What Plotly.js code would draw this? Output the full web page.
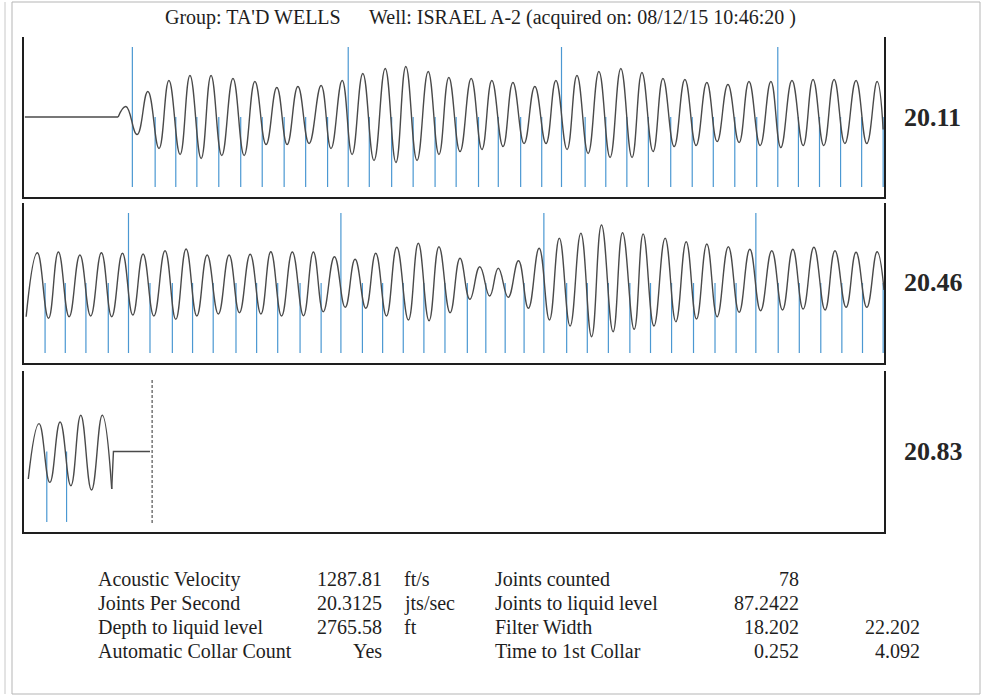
<!DOCTYPE html>
<html>
<head>
<meta charset="utf-8">
<script src="https://cdn.plot.ly/plotly-3.0.1.min.js"></script>
<style>html,body{margin:0;padding:0;background:#fff;}#chart{width:982px;height:696px;}</style>
</head>
<body>
<div id="chart"></div>
<script>
// ---------------- DATA ----------------
const titleGroup = "Group: TA'D WELLS";
const titleWell = "Well: ISRAEL A-2 (acquired on: 08/12/15 10:46:20 )";

// Panel ranges in seconds
const panelRanges = [[0, 2], [2, 4], [4, 6]];
const panelJps = ["20.11", "20.46", "20.83"];

// Panel 1: flat lead-in then acoustic trace extremes (time s, amplitude)
const p1FlatT = [0.002, 0.219];
const p1FlatA = [0, 0];
const p1WaveT = [0.219,0.237,0.263,0.288,0.314,0.337,0.363,0.386,0.412,0.435,0.460,0.486,0.512,0.537,0.563,0.588,0.612,0.637,0.663,0.691,0.714,0.740,0.763,0.788,0.814,0.840,0.865,0.888,0.914,0.940,0.965,0.988,1.014,1.040,1.065,1.088,1.114,1.137,1.163,1.188,1.214,1.237,1.263,1.286,1.312,1.337,1.363,1.388,1.414,1.437,1.463,1.486,1.512,1.537,1.563,1.588,1.612,1.637,1.663,1.686,1.712,1.737,1.760,1.786,1.812,1.835,1.860,1.884,1.909,1.935,1.960,1.984,1.998];
const p1WaveA = [0,10.5,-17.5,25.5,-31.5,36.5,-37.5,41.5,-41.5,41.5,-38.5,38.5,-38.5,35.5,-27.5,29.5,-27.5,30.5,-26.5,31.5,-31.5,36.5,-37.5,43.5,-43.5,48.5,-45.5,50.5,-43.5,45.5,-37.5,39.5,-34.5,38.5,-32.5,36.5,-29.5,34.5,-26.5,30.5,-26.5,36.5,-32.5,41.5,-36.5,45.5,-40.5,48.5,-40.5,44.5,-34.5,38.5,-29.5,37.5,-28.5,34.5,-24.5,32.5,-25.5,35.5,-28.5,35.5,-30.5,36.5,-28.5,37.5,-28.5,37.5,-26.5,36.5,-26.5,35.5,-12.5];

// Panel 2
const p2WaveT = [2.005,2.031,2.057,2.080,2.105,2.130,2.155,2.180,2.204,2.229,2.253,2.277,2.302,2.328,2.353,2.377,2.402,2.426,2.452,2.477,2.501,2.526,2.551,2.574,2.599,2.624,2.650,2.673,2.696,2.722,2.747,2.770,2.795,2.818,2.843,2.867,2.894,2.917,2.942,2.965,2.991,3.014,3.037,3.060,3.083,3.103,3.126,3.150,3.173,3.198,3.222,3.245,3.270,3.295,3.320,3.343,3.370,3.392,3.419,3.440,3.465,3.491,3.516,3.540,3.564,3.588,3.612,3.638,3.663,3.688,3.713,3.739,3.764,3.788,3.812,3.837,3.863,3.886,3.912,3.935,3.960,3.984,4.000];
const p2WaveA = [-33.7,30.3,-35.3,31,-33.7,28,-33,30.3,-33.7,29.7,-32,29,-33,32.3,-36.3,34,-33,28,-31,28,-29.7,28.7,-31,31.3,-33,31,-32.7,31,-28.7,26.3,-24.3,23.7,-25.3,29.7,-33,35.7,-37,39.7,-37.7,36.3,-29.7,24.7,-16.3,16.3,-13,14.7,-14.3,22.3,-25.3,34.7,-37,44.7,-43,49.7,-53.7,58,-48.7,50.3,-46.3,49,-43,44.7,-38.7,41.3,-36,39,-33.7,36.3,-29.3,33.7,-27.7,32.3,-27,33.7,-26,35.7,-27,32.3,-24.3,30.7,-24.3,31.3,-7];

// Panel 3: trace then cut-off tail to the liquid level
const p3WaveT = [4.010,4.035,4.060,4.084,4.109,4.132,4.157,4.182,4.204];
const p3WaveA = [-27.3,27.7,-30.7,29.3,-34,36,-38.3,36,-37.3];
const p3TailT = [4.204, 4.208, 4.293];
const p3TailA = [-37.3, 0, 0];
const liquidLevelT = 4.298;

// Collar (joint) detections, seconds
const collarsP1 = [0.252,0.305,0.353,0.402,0.453,0.504,0.554,0.605,0.655,0.706,0.754,0.803,0.855,0.905,0.956,1.005,1.057,1.103,1.155,1.204,1.250,1.305,1.353,1.402,1.452,1.504,1.554,1.603,1.653,1.704,1.753,1.801,1.850,1.899,1.948,1.998];
const collarsP2 = [2.049,2.096,2.144,2.196,2.243,2.293,2.345,2.392,2.440,2.493,2.541,2.590,2.642,2.691,2.737,2.787,2.834,2.882,2.930,2.979,3.031,3.074,3.119,3.163,3.209,3.262,3.310,3.359,3.409,3.457,3.506,3.557,3.607,3.656,3.702,3.754,3.803,3.853,3.902,3.950,3.998];
const collarsP3 = [4.053, 4.099];
const majorCollarNumbers = [0, 10, 20, 30, 40, 50, 60, 70];

// Summary table
const leftLabels = ["Acoustic Velocity", "Joints Per Second", "Depth to liquid level", "Automatic Collar Count"];
const leftValues = ["1287.81", "20.3125", "2765.58", "Yes"];
const leftUnits = ["ft/s", "jts/sec", "ft", ""];
const rightLabels = ["Joints counted", "Joints to liquid level", "Filter Width", "Time to 1st Collar"];
const rightValues1 = ["78", "87.2422", "18.202", "0.252"];
const rightValues2 = ["", "", "22.202", "4.092"];

// ---------------- BUILD ----------------
const W = 982, H = 696;
const px = v => v / W;
const py = v => 1 - v / H;
const WAVE = '#4a4a4a', BLUE = '#4b98d2', INK = '#1e1e1e';
const FONT = 'Liberation Serif, Times New Roman, serif';

const axisIds = ['', '2', '3'];
const traces = [];

function collarTrace(list, offset, ax) {
  const x = [], y = [];
  list.forEach((t, i) => {
    const n = i + offset;
    const top = majorCollarNumbers.includes(n) ? 70 : 0;
    x.push(t, t, null); y.push(top, -70, null);
  });
  return {x, y, xaxis: 'x' + ax, yaxis: 'y' + ax, mode: 'lines', type: 'scatter',
          line: {color: BLUE, width: 1.2}, hoverinfo: 'skip', showlegend: false};
}
traces.push(collarTrace(collarsP1, 0, ''));
traces.push(collarTrace(collarsP2, collarsP1.length, '2'));
traces.push(collarTrace(collarsP3, collarsP1.length + collarsP2.length, '3'));

function waveTrace(x, y, ax, shape) {
  return {x, y, xaxis: 'x' + ax, yaxis: 'y' + ax, mode: 'lines', type: 'scatter',
          line: {color: WAVE, width: 1.4, shape: shape, smoothing: 1.3}, hoverinfo: 'skip', showlegend: false};
}
traces.push(waveTrace(p1FlatT, p1FlatA, '', 'linear'));
traces.push(waveTrace(p1WaveT, p1WaveA, '', 'spline'));
traces.push(waveTrace(p2WaveT, p2WaveA, '2', 'spline'));
traces.push(waveTrace(p3WaveT, p3WaveA, '3', 'spline'));
traces.push(waveTrace(p3TailT, p3TailA, '3', 'linear'));
traces.push({x: [liquidLevelT, liquidLevelT], y: [71, -71], xaxis: 'x3', yaxis: 'y3', mode: 'lines',
             type: 'scatter', line: {color: '#6a6a6a', width: 1.4, dash: '3px,2px'}, hoverinfo: 'skip', showlegend: false});

const panelsPx = [[37, 197], [203, 363], [371, 532]];
const layout = {
  width: W, height: H, margin: {l: 0, r: 0, t: 0, b: 0},
  paper_bgcolor: '#fff', plot_bgcolor: 'rgba(0,0,0,0)', showlegend: false,
  font: {family: FONT, color: INK},
  annotations: [], shapes: []
};
panelsPx.forEach((p, i) => {
  const id = axisIds[i];
  layout['xaxis' + id] = {domain: [px(24), px(884)], range: panelRanges[i], anchor: 'y' + id,
    showline: true, linecolor: INK, linewidth: 2.2, showgrid: false, zeroline: false,
    showticklabels: false, ticks: '', fixedrange: true};
  layout['yaxis' + id] = {domain: [py(p[1]), py(p[0])], range: [-80, 80], anchor: 'x' + id,
    showline: true, mirror: true, linecolor: INK, linewidth: 2.2, showgrid: false, zeroline: false,
    showticklabels: false, ticks: '', fixedrange: true};
  layout.annotations.push({text: '<b>' + panelJps[i] + '</b>', xref: 'paper', yref: 'paper',
    x: px(902), y: py((p[0] + p[1]) / 2), xanchor: 'left', yanchor: 'middle', showarrow: false,
    font: {family: FONT, size: 26, color: '#262626'}});
});

layout.annotations.push({text: titleGroup, xref: 'paper', yref: 'paper', x: px(163), y: py(18),
  xanchor: 'left', yanchor: 'middle', showarrow: false, font: {family: FONT, size: 20, color: INK}});
layout.annotations.push({text: titleWell, xref: 'paper', yref: 'paper', x: px(367), y: py(18),
  xanchor: 'left', yanchor: 'middle', showarrow: false, font: {family: FONT, size: 20, color: INK}});

const rowY = [579, 603, 627, 651];
const tf = {family: FONT, size: 20, color: INK};
function addText(text, x, y, anchor) {
  if (!text) return;
  layout.annotations.push({text, xref: 'paper', yref: 'paper', x: px(x), y: py(y),
    xanchor: anchor, yanchor: 'middle', showarrow: false, font: tf});
}
rowY.forEach((y, i) => {
  addText(leftLabels[i], 96, y, 'left');
  addText(leftValues[i], 384, y, 'right');
  addText(leftUnits[i], 402, y, 'left');
  addText(rightLabels[i], 493, y, 'left');
  addText(rightValues1[i], 801, y, 'right');
  addText(rightValues2[i], 922, y, 'right');
});

// scanned page border
layout.shapes.push({type: 'rect', xref: 'paper', yref: 'paper', x0: px(12), x1: px(980), y0: py(694), y1: py(2),
  line: {color: '#b5b5b5', width: 1}});
layout.shapes.push({type: 'line', xref: 'paper', yref: 'paper', x0: px(5), x1: px(5), y0: py(694), y1: py(2),
  line: {color: '#c8c8c8', width: 1}});

Plotly.newPlot('chart', traces, layout, {staticPlot: true, displayModeBar: false});
</script>
</body>
</html>
